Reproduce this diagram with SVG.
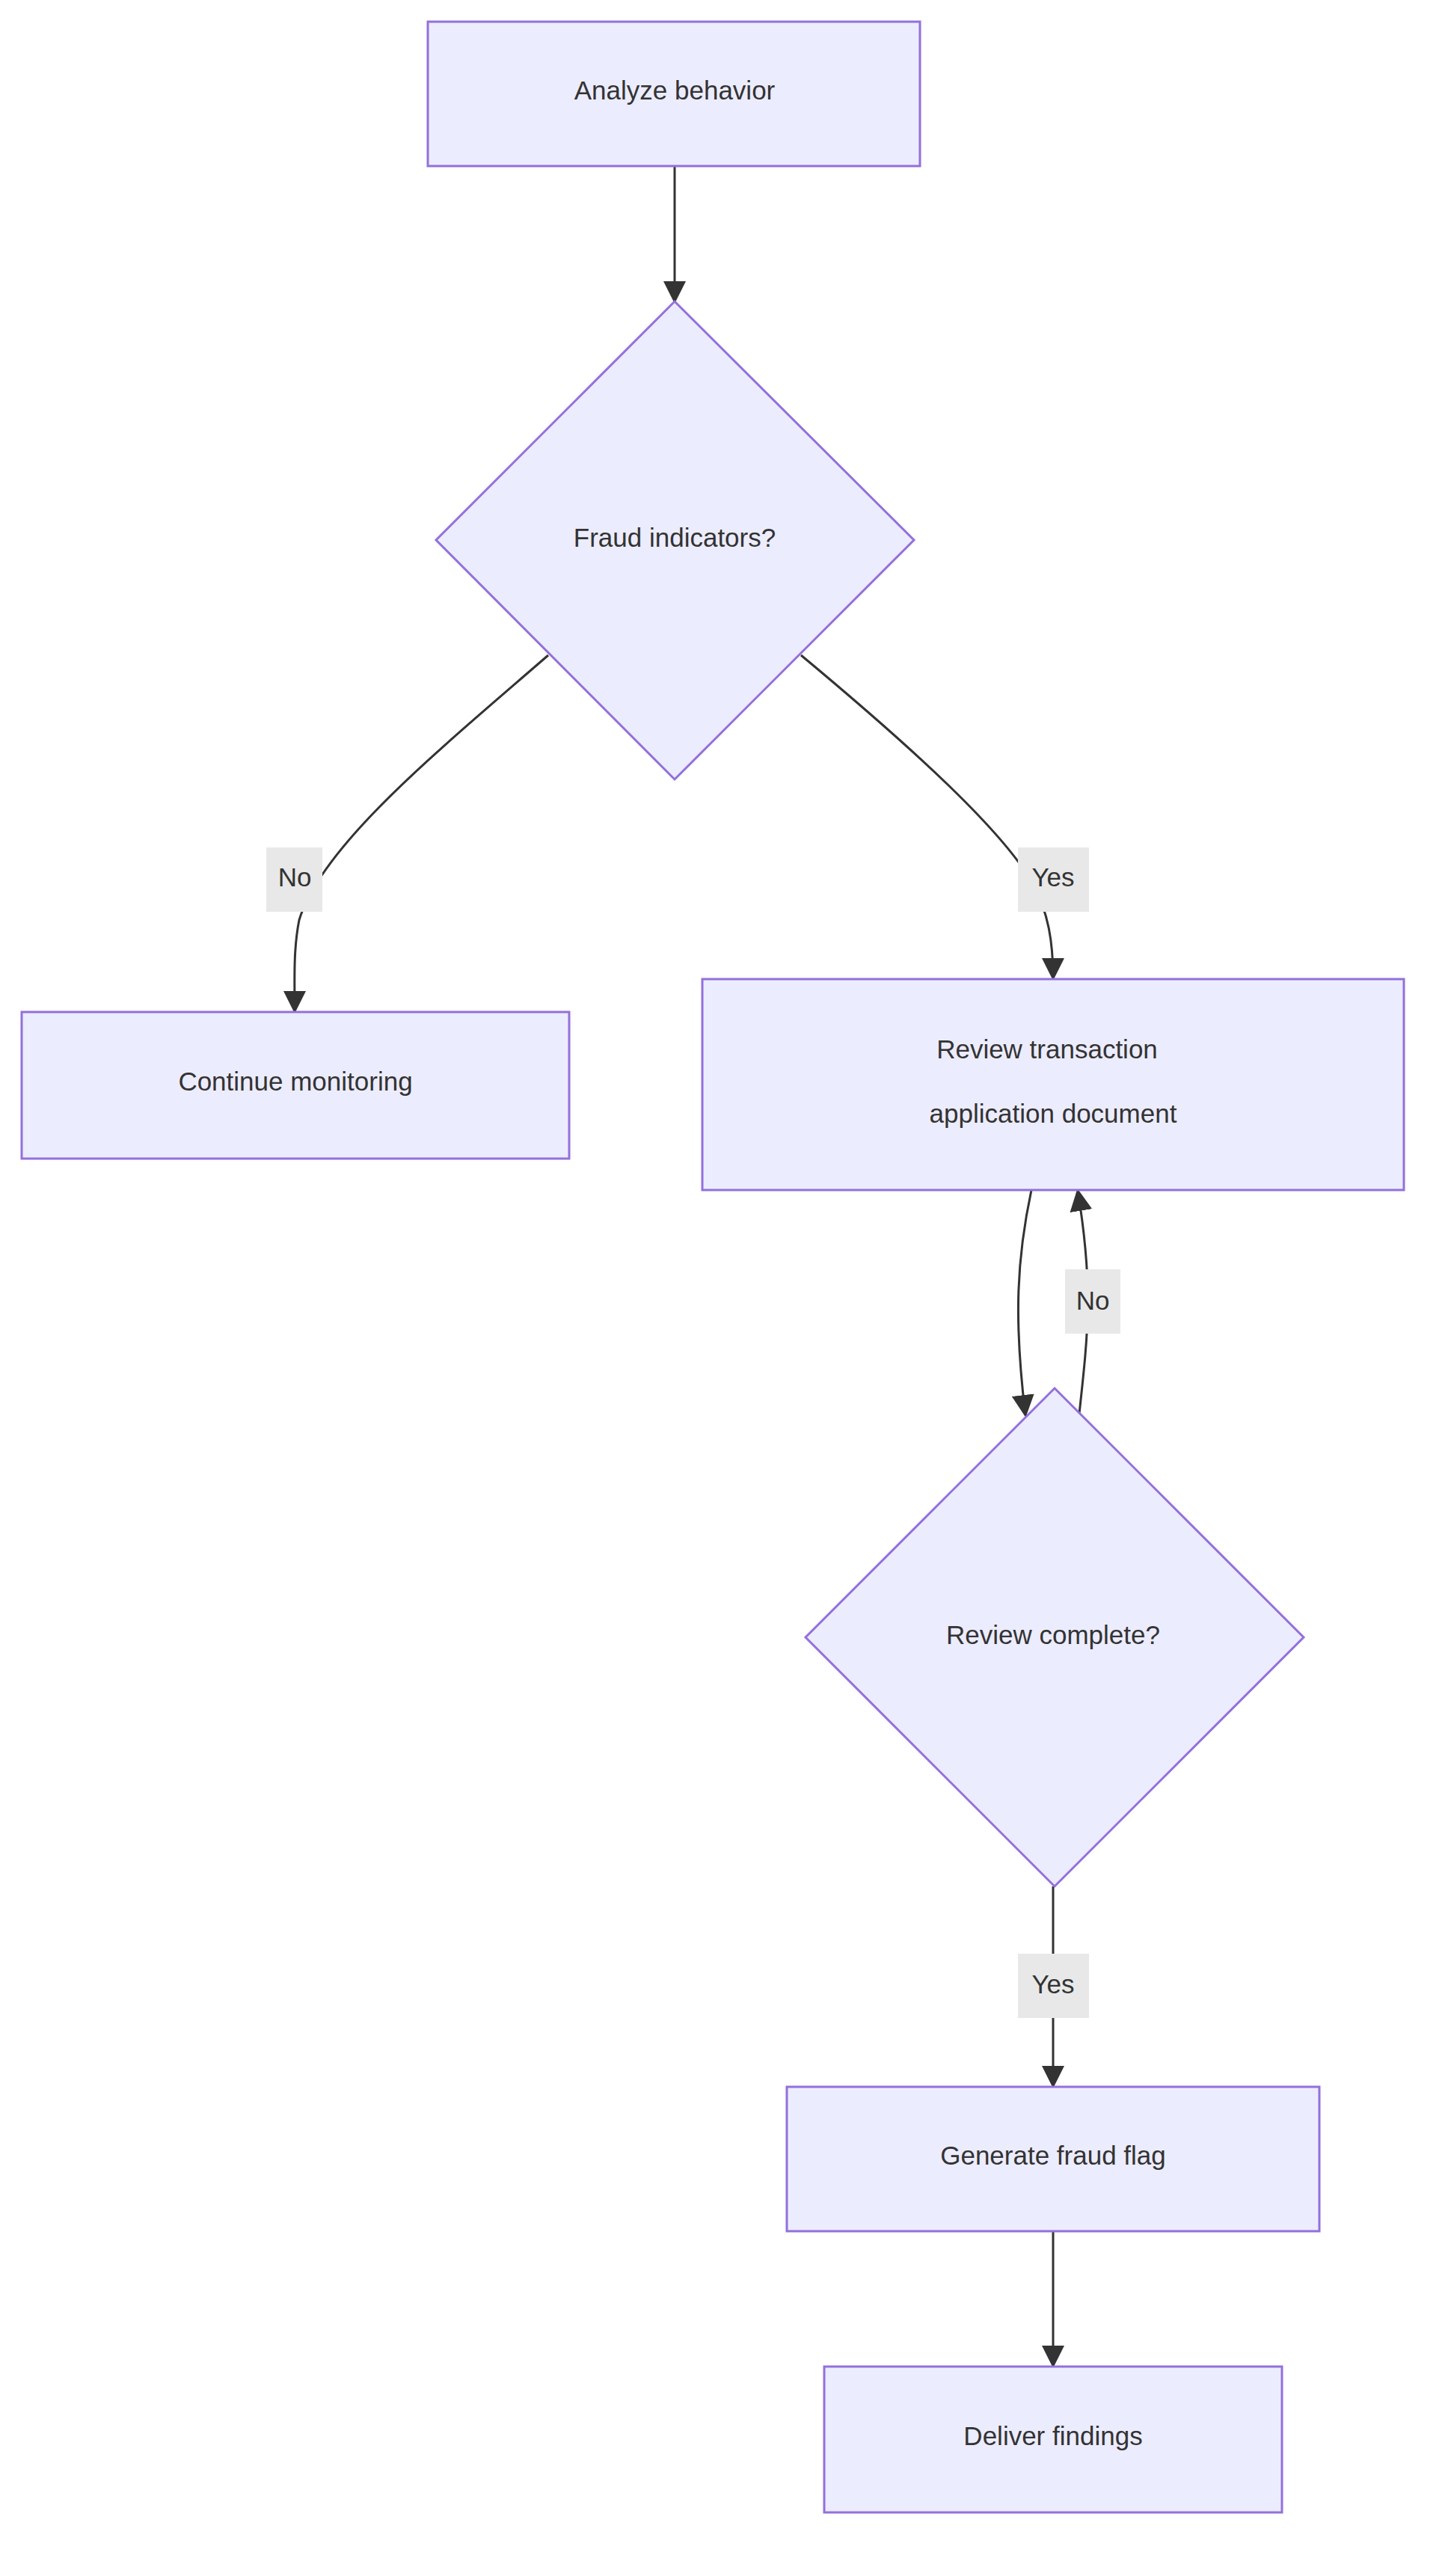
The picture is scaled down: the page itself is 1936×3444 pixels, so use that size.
<svg xmlns="http://www.w3.org/2000/svg" width="1936" height="3444" viewBox="0 0 1936 3444">
<style>
.n{fill:#ECECFF;stroke:#9370DB;stroke-width:3}
.t{font-family:"Liberation Sans",Arial,sans-serif;font-size:35px;fill:#333;text-anchor:middle;dominant-baseline:central}
.e{fill:none;stroke:#333;stroke-width:3}
.lb{fill:#e8e8e8}
</style>
<defs><marker id="a" viewBox="0 0 10 10" refX="9" refY="5" markerWidth="9" markerHeight="9" markerUnits="userSpaceOnUse" orient="auto"><path d="M0,0L10,5L0,10z" fill="#333"/></marker>
<marker id="ah" viewBox="0 0 10 10" refX="9" refY="5" markerWidth="30" markerHeight="30" markerUnits="userSpaceOnUse" orient="auto"><path d="M0,0L10,5L0,10z" fill="#333"/></marker></defs>
<g id="edges">
<path class="e" marker-end="url(#ah)" d="M902,222L902,403"/>
<path class="e" marker-end="url(#ah)" d="M733,876C590,1000 430,1130 400,1230C392,1270 394,1310 394,1352"/>
<path class="e" marker-end="url(#ah)" d="M1071,876C1220,1000 1340,1110 1380,1180C1402,1220 1408,1260 1408,1308"/>
<path class="e" marker-end="url(#ah)" d="M1379,1591C1360,1680 1355,1760 1371,1892"/>
<path class="e" marker-end="url(#ah)" d="M1443,1890C1455,1780 1462,1720 1441,1592"/>
<path class="e" marker-end="url(#ah)" d="M1408,2522L1408,2789"/>
<path class="e" marker-end="url(#ah)" d="M1408,2983L1408,3163"/>
<rect class="lb" x="356" y="1133" width="75" height="86"/><text class="t" x="394" y="1172">No</text>
<rect class="lb" x="1361" y="1133" width="95" height="86"/><text class="t" x="1408" y="1172">Yes</text>
<rect class="lb" x="1424" y="1697" width="74" height="86"/><text class="t" x="1461" y="1738">No</text>
<rect class="lb" x="1361" y="2612" width="95" height="86"/><text class="t" x="1408" y="2652">Yes</text>
</g>
<g id="analyze"><rect class="n" x="572" y="29" width="658" height="193"/><text class="t" x="902" y="120">Analyze behavior</text></g>
<g id="fraud"><polygon class="n" points="902,403 1222,722 902,1042 583,722"/><text class="t" x="902" y="718">Fraud indicators?</text></g>
<g id="continue"><rect class="n" x="29" y="1353" width="732" height="196"/><text class="t" x="395" y="1445">Continue monitoring</text></g>
<g id="review"><rect class="n" x="939" y="1309" width="938" height="282"/><text class="t" x="1400" y="1402">Review transaction</text><text class="t" x="1408" y="1488">application document</text></g>
<g id="complete"><polygon class="n" points="1410,1856 1743,2189 1410,2522 1077,2189"/><text class="t" x="1408" y="2185">Review complete?</text></g>
<g id="flag"><rect class="n" x="1052" y="2790" width="712" height="193"/><text class="t" x="1408" y="2881">Generate fraud flag</text></g>
<g id="deliver"><rect class="n" x="1102" y="3164" width="612" height="195"/><text class="t" x="1408" y="3256">Deliver findings</text></g>
</svg>
